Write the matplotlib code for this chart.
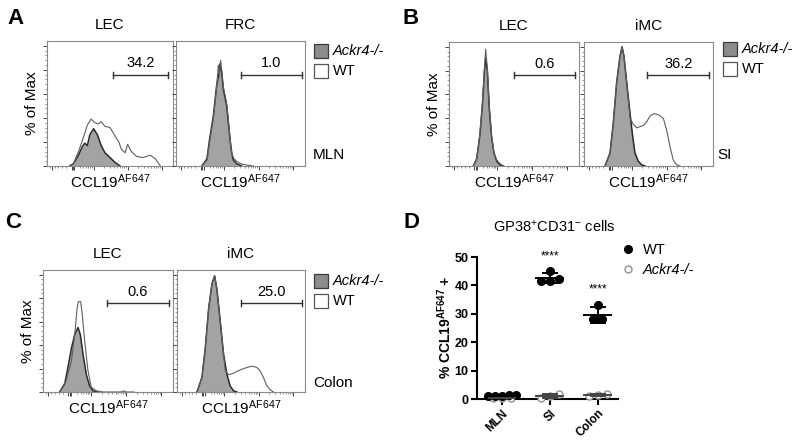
import numpy as np
import matplotlib
matplotlib.use("Agg")
import matplotlib.pyplot as plt
from matplotlib.patches import Rectangle
from matplotlib.lines import Line2D

plt.rcParams["font.family"] = ["Liberation Sans", "DejaVu Sans"]
plt.rcParams["mathtext.fontset"] = "custom"
plt.rcParams["mathtext.rm"] = "Liberation Sans"
plt.rcParams["mathtext.it"] = "Liberation Sans:italic"
plt.rcParams["mathtext.bf"] = "Liberation Sans:bold"

# histogram traces: x in % of axis width, y in % of max
a_lec_ko_x = [18, 21, 25, 28, 30, 32, 34, 37, 40, 43, 46, 50, 54, 58]
a_lec_ko_y = [0, 2, 9, 16, 19, 17, 26, 31, 26, 17, 11, 7, 3, 0]
a_lec_wt_x = [18, 21, 25, 29, 32, 35, 38, 41, 43, 46, 50, 54, 57, 59, 62, 64, 67, 71, 76, 82, 86, 90]
a_lec_wt_y = [0, 2, 12, 24, 34, 39, 36, 35, 37, 33, 32, 25, 20, 14, 11, 18, 12, 8, 7, 9, 6, 0]

a_frc_ko_x = [20, 24, 26, 29, 31.5, 33.6, 34.1, 35.4, 36.7, 39.3, 40.6, 41.9, 43.2, 44.4, 47, 51]
a_frc_ko_y = [0, 6, 22, 42, 67, 78, 85, 78, 64, 50, 36, 22, 11, 5, 2, 0]
a_frc_wt_x = [20, 24, 26, 29, 31.5, 32.8, 33.6, 34.6, 35.4, 36.7, 39.3, 40.6, 41.9, 43.2, 45, 47, 50, 53.5, 60]
a_frc_wt_y = [0, 5, 20, 40, 66, 84, 77, 88, 80, 66, 52, 38, 23, 10, 6, 4, 2, 1, 0]

b_lec_ko_x = [18.7, 21.3, 23.8, 25.9, 27.2, 28.2, 29.5, 31, 32.8, 34.6, 36.7, 39.2, 41.8]
b_lec_ko_y = [0, 6, 26, 54, 78, 90, 80, 48, 24, 11, 4, 1, 0]
b_lec_wt_x = [18.7, 21.3, 23.8, 25.9, 27.2, 28.2, 29.5, 31, 32.8, 34.6, 36.7, 39.2, 41.8]
b_lec_wt_y = [0, 6, 27, 56, 82, 98, 82, 50, 25, 11, 5, 2, 0]

b_imc_ko_x = [16.3, 20.2, 22.7, 25.3, 27.9, 29.5, 31, 33.1, 35.7, 37.7, 39.5, 42.1, 44.7, 47.3]
b_imc_ko_y = [0, 11, 36, 70, 92, 100, 92, 70, 44, 25, 11, 4, 1, 0]
b_imc_wt_x = [16.3, 20.2, 22.7, 25.3, 27.9, 29.5, 31, 33.1, 35.7, 38.2, 40.8, 43.4, 46, 48.6,
              51.2, 54.3, 57.6, 61.5, 64.1, 66.7, 69.2, 71.8, 74.4]
b_imc_wt_y = [0, 11, 36, 70, 92, 100, 92, 70, 40, 35, 32, 33, 34, 37,
              42, 44, 43, 40, 30, 16, 5, 1, 0]

c_lec_ko_x = [12.8, 16.7, 19.2, 21.8, 24.4, 26.9, 28.7, 30.8, 33.3, 35.9, 38.5, 42.3]
c_lec_ko_y = [0, 7, 21, 37, 49, 55, 49, 32, 15, 5, 1, 0]
c_lec_wt_x = [12.8, 17.9, 21.8, 24.4, 26.2, 27.2, 29, 30.3, 32.1, 34.6, 37.2, 41, 46.2, 60, 62, 64, 70]
c_lec_wt_y = [0, 10, 26, 49, 71, 77, 77, 65, 43, 18, 4, 1, 0, 0, 1, 0, 0]

c_imc_ko_x = [15.6, 19.5, 22.1, 24.7, 27.3, 29.4, 31.2, 33.8, 36.4, 39, 41.6, 44.2, 46.8]
c_imc_ko_y = [0, 12.5, 37.5, 71, 92, 99, 87.5, 60, 32, 15, 5, 1, 0]
c_imc_wt_x = [15.6, 19.5, 22.1, 24.7, 27.3, 29.4, 31.2, 33.8, 36.4, 37.7, 40.3, 42.9, 46.8,
              50.6, 54.5, 58.4, 62.3, 64.9, 67.5, 70.1, 72.7, 75.3]
c_imc_wt_y = [0, 12.5, 37.5, 71, 92, 99, 87.5, 60, 32, 18, 14.7, 15.5, 17.5,
              19.4, 20.8, 22, 21, 18, 12.5, 5.5, 2, 0]

gate_labels = ["34.2", "1.0", "0.6", "36.2", "0.6", "25.0"]
cell_types = ["LEC", "FRC", "LEC", "iMC", "LEC", "iMC"]
tissue_labels = ["MLN", "SI", "Colon"]

# panel D
tissues = ["MLN", "SI", "Colon"]
wt_vals = [[1.3, 1.0, 1.2, 1.1, 1.4], [45.2, 41.5, 41.5, 42.2], [33.0, 28.0, 28.0]]
ko_vals = [[0.3, 0.5, 0.4], [0.4, 1.2, 1.9], [1.6, 1.0, 1.3]]
signif = ["", "****", "****"]

W, H = 800, 441
FILL = "#a3a3a3"
XLAB = r"CCL19$^{\mathregular{AF647}}$"


def box(left, top, right, bottom):
    return [left / W, 1 - bottom / H, (right - left) / W, (bottom - top) / H]


def fxy(px, py):
    return px / W, 1 - py / H


fig = plt.figure(figsize=(8, 4.41), dpi=100)

dec = [10, 37, 64, 91]
minor_x = [d + 27 * np.log10(k) for d in dec[:3] for k in range(2, 10)]
minor_x = [m for m in minor_x if not 17 < m < 24] + [2, 6, 9, 12, 15]
major_x = [4, 19.5, 20.5, 21.5, 37, 64, 91]


def draw_hist(ax, ko_x, ko_y, wt_x, wt_y, label, gate):
    ax.fill_between(ko_x, ko_y, color=FILL, lw=0, zorder=2)
    ax.plot(ko_x, ko_y, color="#2a2a2a", lw=1.1, zorder=3)
    ax.plot(wt_x, wt_y, color="#5e5e5e", lw=0.8, zorder=4)
    ax.set_xlim(0, 100)
    ax.set_ylim(0, 104)
    for s in ax.spines.values():
        s.set_color("#8a8a8a")
        s.set_linewidth(0.8)
    ax.set_yticks(np.arange(0, 101, 20))
    ax.set_yticks(np.arange(0, 101, 4), minor=True)
    ax.set_xticks(major_x)
    ax.set_xticks(minor_x, minor=True)
    ax.tick_params(which="major", length=3, width=0.7, color="#444",
                   labelleft=False, labelbottom=False)
    ax.tick_params(which="minor", length=1.6, width=0.5, color="#666")
    x0, x1 = gate
    gy = 76
    ax.plot([x0, x1], [gy, gy], color="#333", lw=1, zorder=5)
    ax.plot([x0, x0], [gy - 2.5, gy + 2.5], color="#333", lw=1, zorder=5)
    ax.plot([x1, x1], [gy - 2.5, gy + 2.5], color="#333", lw=1, zorder=5)
    ax.text((x0 + x1) / 2, gy + 3.5, label, ha="center", va="bottom", fontsize=10.5)


hist_data = [
    (a_lec_ko_x, a_lec_ko_y, a_lec_wt_x, a_lec_wt_y),
    (a_frc_ko_x, a_frc_ko_y, a_frc_wt_x, a_frc_wt_y),
    (b_lec_ko_x, b_lec_ko_y, b_lec_wt_x, b_lec_wt_y),
    (b_imc_ko_x, b_imc_ko_y, b_imc_wt_x, b_imc_wt_y),
    (c_lec_ko_x, c_lec_ko_y, c_lec_wt_x, c_lec_wt_y),
    (c_imc_ko_x, c_imc_ko_y, c_imc_wt_x, c_imc_wt_y),
]
# pixel boxes (left, top, right, bottom)
hist_boxes = [(47, 41, 173, 166), (176, 41, 305, 166),
              (449, 42, 579, 166), (584, 42, 713, 166),
              (43, 270, 173, 392), (177, 270, 305, 392)]
gates = [(52, 96), (50, 97.5), (50, 97), (49, 97), (49, 97), (50, 97.5)]

for i, (d, b) in enumerate(zip(hist_data, hist_boxes)):
    ax = fig.add_axes(box(*b))
    draw_hist(ax, *d, gate_labels[i], gates[i])
    cx = (b[0] + b[2]) / 2
    fig.text(*fxy(cx, b[1] - 16), cell_types[i], ha="center", va="center", fontsize=11)
    fig.text(*fxy(cx, b[3] + 16), XLAB, ha="center", va="center", fontsize=11)
    if i % 2 == 0:
        fig.text(*fxy(b[0] - 15, (b[1] + b[3]) / 2), "% of Max", rotation=90,
                 ha="center", va="center", fontsize=11)

# legends and tissue names for histogram rows
legend_spots = [(314, 44), (723, 42), (314, 274)]
tissue_spots = [(313, 155), (717, 155), (313, 383)]
for (lx, ly), (tx, ty), tname in zip(legend_spots, tissue_spots, tissue_labels):
    fig.add_artist(Rectangle(fxy(lx, ly + 14), 14 / W, 14 / H, transform=fig.transFigure,
                             facecolor="#8c8c8c", edgecolor="#3a3a3a", lw=0.9))
    fig.add_artist(Rectangle(fxy(lx, ly + 34), 14 / W, 14 / H, transform=fig.transFigure,
                             facecolor="white", edgecolor="#555", lw=0.9))
    fig.text(*fxy(lx + 19, ly + 7), "Ackr4-/-", style="italic", ha="left", va="center",
             fontsize=10.5)
    fig.text(*fxy(lx + 19, ly + 27), "WT", ha="left", va="center", fontsize=10.5)
    fig.text(*fxy(tx, ty), tname, ha="left", va="center", fontsize=11)

# panel letters
for letter, (px, py) in zip("ABCD", [(15, 18), (411, 18), (13, 222), (411, 222)]):
    fig.text(*fxy(px, py), letter, ha="center", va="center", fontsize=16, fontweight="bold")


# panel D
def spread(vals, step=0.19, tol=1.6):
    vals = np.asarray(vals, dtype=float)
    order = np.argsort(vals)
    offs = np.zeros(len(vals))
    groups = [[order[0]]]
    for idx in order[1:]:
        if vals[idx] - vals[groups[-1][-1]] < tol:
            groups[-1].append(idx)
        else:
            groups.append([idx])
    for g in groups:
        st = step if len(g) < 5 else step * 0.75
        for k, idx in enumerate(g):
            offs[idx] = (k - (len(g) - 1) / 2) * st
    return offs


axd = fig.add_axes(box(477, 257, 618, 399))
for c, (wv, kv, star) in enumerate(zip(wt_vals, ko_vals, signif)):
    axd.plot(c + spread(kv), kv, "o", ms=5, mfc="white", mec="#9a9a9a", mew=1.1, zorder=3,
             clip_on=False)
    axd.plot(c + spread(wv), wv, "o", ms=5.5, color="black", zorder=4, clip_on=False)
    for vals, col in [(kv, "#444"), (wv, "black")]:
        m, sd = np.mean(vals), np.std(vals, ddof=1)
        axd.plot([c - 0.28, c + 0.28], [m, m], color=col, lw=1.4, zorder=5, clip_on=False)
        axd.plot([c, c], [m - sd, m + sd], color=col, lw=1.4, zorder=5, clip_on=False)
        for e in (m - sd, m + sd):
            axd.plot([c - 0.14, c + 0.14], [e, e], color=col, lw=1.4, zorder=5, clip_on=False)
    if star:
        top = np.mean(wv) + np.std(wv, ddof=1)
        axd.text(c, top + 6, star, ha="center", va="center", fontsize=8.5, clip_on=False)

axd.set_xlim(-0.52, 2.42)
axd.set_ylim(0, 50)
axd.spines["top"].set_visible(False)
axd.spines["right"].set_visible(False)
for s in ("left", "bottom"):
    axd.spines[s].set_linewidth(1.5)
axd.set_yticks(np.arange(0, 51, 10))
axd.set_yticklabels([str(v) for v in range(0, 51, 10)], fontweight="bold", fontsize=9)
axd.set_xticks(range(len(tissues)))
axd.set_xticklabels(tissues, rotation=45, ha="right", rotation_mode="anchor",
                    fontweight="bold", fontsize=8.5)
axd.tick_params(length=4, width=1.5, pad=2)

fig.text(*fxy(445, 327), r"% CCL19$^{\mathbf{AF647}}$ +", rotation=90, ha="center",
         va="center", fontsize=10, fontweight="bold")
fig.text(*fxy(554, 227), r"GP38$^{\mathregular{+}}$CD31$^{\mathregular{-}}$ cells",
         ha="center", va="center", fontsize=10.5)

handles = [Line2D([], [], ls="", marker="o", ms=5.5, color="black"),
           Line2D([], [], ls="", marker="o", ms=5, mfc="white", mec="#9a9a9a", mew=1.1)]
leg = fig.legend(handles, ["WT", "Ackr4-/-"], loc="upper left",
                 bbox_to_anchor=fxy(621, 243), frameon=False, fontsize=10.5,
                 handlelength=1, handletextpad=0.5, labelspacing=0.4,
                 borderpad=0, borderaxespad=0)
leg.get_texts()[1].set_style("italic")

fig.savefig("out.png", dpi=100)
